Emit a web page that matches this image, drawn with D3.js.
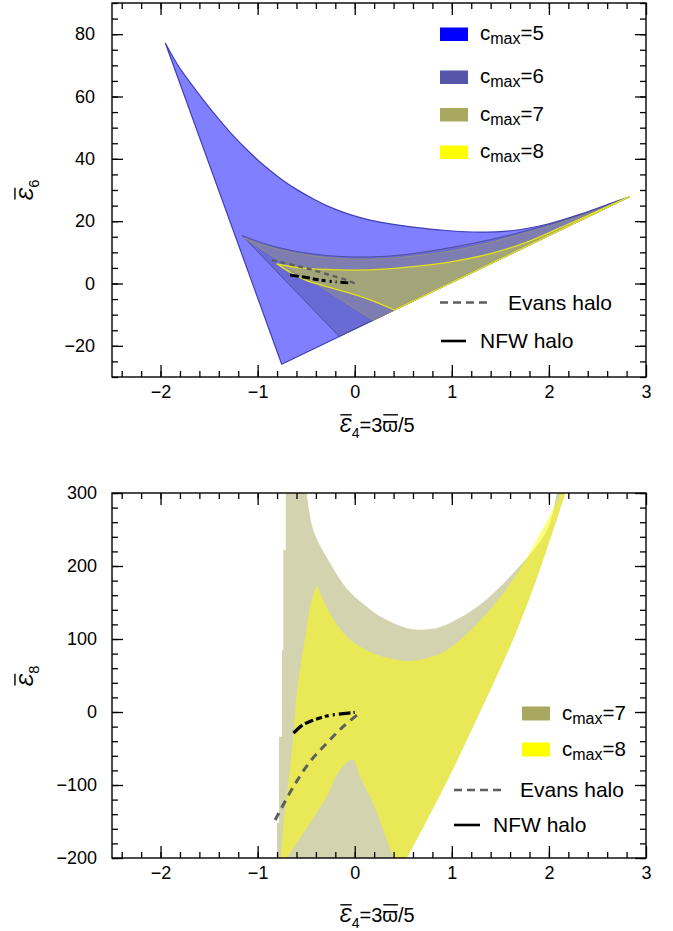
<!DOCTYPE html>
<html>
<head>
<meta charset="utf-8">
<script src="https://cdn.jsdelivr.net/npm/d3@7"></script>
<style>
  body { margin: 0; background: #fff; }
  text { font-family: "Liberation Sans", Arial, Helvetica, sans-serif; fill: #000; }
</style>
</head>
<body>
<svg id="fig" width="673" height="931"></svg>
<script>
// ---------- axis ticks ----------
const xMajorTicks = [-2, -1, 0, 1, 2, 3];
const yMajorTicksTop = [-20, 0, 20, 40, 60, 80];
const yMajorTicksBottom = [-200, -100, 0, 100, 200, 300];

// ---------- upper panel: (E4, E6) allowed regions ----------
// each region: curved upper boundary, then straight edges back to the start
const cmax5Upper = [
  [-1.95, 77.1], [-1.80, 69.0], [-1.625, 61.6], [-1.455, 54.8], [-1.283, 48.5],
  [-1.11, 42.9], [-0.94, 38.0], [-0.77, 33.8], [-0.60, 30.2], [-0.43, 27.2],
  [-0.26, 24.6], [-0.085, 22.5], [0.085, 20.9], [0.26, 19.7], [0.60, 18.1],
  [0.94, 17.0], [1.29, 16.5], [1.63, 17.0], [1.98, 19.0], [2.32, 22.2],
  [2.66, 26.0], [2.83, 27.85]
];
const cmax5Edges = [[2.83, 27.85], [-0.752, -25.9], [-1.95, 77.1]];

const cmax6Upper = [
  [-1.16, 15.4], [-0.9, 12.5], [-0.6, 10.3], [-0.3, 9.0], [0.0, 8.5], [0.3, 8.7],
  [0.6, 9.6], [1.0, 11.6], [1.4, 14.1], [1.8, 17.2], [2.2, 20.8], [2.5, 23.9], [2.83, 27.85]
];
const cmax6Edges = [[2.83, 27.85], [-0.16, -17.0], [-1.16, 15.4]];

const cmax7Upper = [
  [-1.14, 14.6], [-0.9, 11.9], [-0.6, 9.7], [-0.3, 8.4], [0.0, 7.8], [0.3, 8.0],
  [0.6, 8.8], [1.0, 10.5], [1.4, 13.2], [1.8, 16.6], [2.2, 20.4], [2.5, 23.6], [2.83, 27.85]
];
const cmax7Edges = [[2.83, 27.85], [0.19, -11.8], [-1.14, 14.6]];

const cmax8Upper = [
  [-0.80, 6.3], [-0.6, 5.2], [-0.3, 4.5], [0.0, 4.3], [0.3, 4.6], [0.6, 5.4],
  [1.0, 7.0], [1.4, 9.6], [1.8, 13.6], [2.2, 19.1], [2.5, 23.2], [2.83, 27.85]
];
const cmax8Edges = [[2.83, 27.85], [0.41, -8.5]];
const cmax8LowerLeft = [[0.41, -8.5], [0.15, -5.2], [-0.085, -2.8], [-0.3, -0.9], [-0.5, 1.0], [-0.65, 3.3], [-0.80, 6.3]];

const evansTop = [[-0.855, 7.5], [-0.60, 5.7], [-0.43, 4.3], [-0.255, 2.7], [-0.083, 1.1], [0.02, -0.2]];
const nfwTop = [[-0.666, 2.7], [-0.494, 1.9], [-0.357, 1.1], [-0.185, 0.5], [-0.066, 0.2]];

// ---------- lower panel: (E4, E8) allowed regions ----------
const cmax7LeftEdge = [
  [-0.54, -200], [-0.80, -200], [-0.80, -152], [-0.78, -152], [-0.78, -34], [-0.75, -34],
  [-0.75, 85], [-0.735, 85], [-0.735, 222], [-0.71, 222], [-0.71, 300], [-0.494, 300]
];
const cmax7UpperBot = [
  [-0.494, 300], [-0.426, 249], [-0.254, 204], [-0.082, 169], [0.089, 148], [0.26, 131],
  [0.45, 119], [0.62, 113], [0.80, 114], [0.95, 120], [1.29, 147], [1.63, 190],
  [1.98, 249], [2.08, 300]
];
const cmax8LeftEdge = [
  [-0.76, -200], [-0.73, -148], [-0.68, -93], [-0.63, -29], [-0.60, 21], [-0.56, 62],
  [-0.50, 110], [-0.45, 150], [-0.39, 174]
];
const cmax8UpperBot = [
  [-0.39, 174], [-0.254, 135], [-0.082, 103], [0.089, 87], [0.26, 77], [0.535, 70],
  [0.75, 74], [0.95, 85], [1.29, 125], [1.63, 181], [1.98, 262], [2.13, 300]
];
const rightEdgeBot = [[2.17, 300], [1.87, 181], [1.63, 99], [1.29, 0], [0.95, -95], [0.54, -200]];
const cmax8InnerEdge = [
  [0.40, -200], [0.295, -162], [0.19, -125], [0.055, -89], [-0.02, -65], [-0.15, -79],
  [-0.29, -116], [-0.46, -152], [-0.70, -200]
];
const evansBottom = [[-0.82, -148], [-0.63, -102], [-0.46, -68], [-0.29, -43], [-0.12, -20], [0.055, -1]];
const nfwBottom = [[-0.63, -29], [-0.55, -19], [-0.46, -13], [-0.29, -5.5], [-0.12, -2.2], [0.0, -0.5]];

// ---------- legend entries ----------
const topLegend = [
  { n: "5", color: "#0000ff", y: 34 },
  { n: "6", color: "#5555aa", y: 77 },
  { n: "7", color: "#a8a860", y: 114.5 },
  { n: "8", color: "#ffff00", y: 152 }
];
const bottomLegend = [
  { n: "7", color: "#a8a860", y: 713.5 },
  { n: "8", color: "#ffff00", y: 749.5 }
];

const svg = d3.select("#fig");
const fmt = d => d < 0 ? "\u2212" + Math.abs(d) : String(d);

const x = d3.scaleLinear().domain([-2.5, 3]).range([112, 646]);
const yTop = d3.scaleLinear().domain([-30, 90]).range([377, 3]);
const yBot = d3.scaleLinear().domain([-200, 300]).range([858, 493]);

function clipFor(id, y) {
  svg.append("clipPath").attr("id", id).append("rect")
    .attr("x", x.range()[0]).attr("y", y.range()[1])
    .attr("width", x.range()[1] - x.range()[0])
    .attr("height", y.range()[0] - y.range()[1]);
}
clipFor("clipTop", yTop);
clipFor("clipBot", yBot);

// closed outline built from a sequence of smooth or straight boundary pieces
function region(g, y, pieces, fill, opacity, stroke, sw) {
  let d = "";
  pieces.forEach((p, i) => {
    const gen = d3.line().x(v => x(v[0])).y(v => y(v[1]))
      .curve(p.smooth ? d3.curveCatmullRom.alpha(0.5) : d3.curveLinear);
    const s = gen(p.pts);
    d += i === 0 ? s : "L" + s.slice(1);
  });
  g.append("path").attr("d", d + "Z")
    .attr("fill", fill).attr("fill-opacity", opacity)
    .attr("stroke", stroke || "none").attr("stroke-width", sw || 0)
    .attr("stroke-linejoin", "round");
}
function curve(g, y, pts, color, width, dash) {
  const line = d3.line().x(d => x(d[0])).y(d => y(d[1])).curve(d3.curveCatmullRom.alpha(0.5));
  g.append("path").attr("d", line(pts)).attr("fill", "none")
    .attr("stroke", color).attr("stroke-width", width)
    .attr("stroke-dasharray", dash);
}

function frame(y, yMajor, yMinorStep, yLabelPad) {
  const [bottom, top] = y.range();
  const [left, right] = x.range();
  const xMinor = d3.range(-2.4, 3.0, 0.2).map(v => +v.toFixed(2));
  const yd = y.domain();
  const yMinor = d3.range(yd[0], yd[1] + 1e-9, yMinorStep);
  const g = svg.append("g");
  const add = (axis, tx, ty) => {
    const a = g.append("g").attr("transform", `translate(${tx},${ty})`).call(axis);
    a.select(".domain").remove();
    a.selectAll("line").attr("stroke", "#000").attr("stroke-width", 1.3);
    a.selectAll("text").attr("font-size", 18).attr("font-family", "Liberation Sans, Arial, sans-serif").attr("fill", "#000");
    return a;
  };
  add(d3.axisBottom(x).tickValues(xMinor).tickSize(-6).tickFormat(""), 0, bottom);
  add(d3.axisBottom(x).tickValues(xMajorTicks).tickSize(-12).tickPadding(8).tickFormat(fmt), 0, bottom);
  add(d3.axisTop(x).tickValues(xMinor).tickSize(-6).tickFormat(""), 0, top);
  add(d3.axisTop(x).tickValues(xMajorTicks).tickSize(-12).tickFormat(""), 0, top);
  add(d3.axisLeft(y).tickValues(yMinor).tickSize(-6).tickFormat(""), left, 0);
  add(d3.axisLeft(y).tickValues(yMajor).tickSize(-11).tickPadding(yLabelPad).tickFormat(fmt), left, 0);
  add(d3.axisRight(y).tickValues(yMinor).tickSize(-6).tickFormat(""), right, 0);
  add(d3.axisRight(y).tickValues(yMajor).tickSize(-11).tickFormat(""), right, 0);
  g.append("rect").attr("x", left).attr("y", top)
    .attr("width", right - left).attr("height", bottom - top)
    .attr("fill", "none").attr("stroke", "#000").attr("stroke-width", 1.4);
}

// Text with overlined symbols and subscripts
function mathText(g, parts, fs) {
  const t = g.append("text").attr("text-anchor", "middle").attr("font-size", fs);
  let idx = 0, sub = false;
  const overs = [];
  parts.forEach(p => {
    const ts = t.append("tspan").text(p.t);
    if (p.italic) ts.attr("font-style", "italic");
    if (p.sub) { ts.attr("font-size", fs * 0.7).attr("dy", fs * 0.28); sub = true; }
    else if (sub) { ts.attr("dy", -fs * 0.28); sub = false; }
    if (p.over) overs.push([idx, idx + p.t.length - 1]);
    idx += p.t.length;
  });
  const node = t.node();
  overs.forEach(([a, b]) => {
    const s = node.getStartPositionOfChar(a), e = node.getEndPositionOfChar(b);
    g.append("line").attr("x1", s.x + 1).attr("x2", e.x)
      .attr("y1", s.y - fs * 0.86).attr("y2", s.y - fs * 0.86)
      .attr("stroke", "#000").attr("stroke-width", 1.4);
  });
  return t;
}

function xTitle(cx, cy) {
  const g = svg.append("g").attr("transform", `translate(${cx},${cy})`);
  mathText(g, [{ t: "\u0190", italic: true, over: true }, { t: "4", sub: true },
               { t: "=3" }, { t: "\u03D6", over: true }, { t: "/5" }], 20);
}
function yTitle(cx, cy, n) {
  const g = svg.append("g").attr("transform", `translate(${cx},${cy}) rotate(-90)`);
  mathText(g, [{ t: "\u0190", italic: true, over: true }, { t: n, sub: true }], 21);
}

function cmaxLabel(lx, base, n) {
  const t = svg.append("text").attr("x", lx).attr("y", base).attr("font-size", 20.5);
  t.append("tspan").text("c");
  t.append("tspan").text("max").attr("font-size", 16).attr("dy", 4);
  t.append("tspan").text("=" + n).attr("dy", -4);
}

// ================= upper panel =================
const gTop = svg.append("g").attr("clip-path", "url(#clipTop)");
region(gTop, yTop, [{ pts: cmax5Upper, smooth: true }, { pts: cmax5Edges }], "#0000ff", 0.5, "#4040b4", 1.2);
region(gTop, yTop, [{ pts: cmax6Upper, smooth: true }, { pts: cmax6Edges }], "#5555aa", 0.5, "#50509c", 1);
region(gTop, yTop, [{ pts: cmax7Upper, smooth: true }, { pts: cmax7Edges }], "#a8a860", 0.3, "#8e8e86", 1);
region(gTop, yTop, [{ pts: cmax8Upper, smooth: true }, { pts: cmax8Edges }, { pts: cmax8LowerLeft, smooth: true }],
  "#ffff00", 0.3, "#e2e21c", 1.3);
curve(gTop, yTop, evansTop, "#5e5e5e", 2.4, "5 4");
curve(gTop, yTop, nfwTop, "#000", 3, "9 3 8 3 6 3 4 4 2 4 1 4");
frame(yTop, yMajorTicksTop, 5, 17);
xTitle(377, 432);
yTitle(33, 190, "6");

topLegend.forEach(d => {
  svg.append("rect").attr("x", 440).attr("y", d.y - 6.5).attr("width", 28).attr("height", 13.5)
    .attr("fill", d.color);
  cmaxLabel(480, d.y + 6, d.n);
});
svg.append("line").attr("x1", 440).attr("x2", 492).attr("y1", 302.5).attr("y2", 302.5)
  .attr("stroke", "#5e5e5e").attr("stroke-width", 2.4).attr("stroke-dasharray", "8 5");
svg.append("text").attr("x", 508).attr("y", 310).attr("font-size", 21).text("Evans halo");
svg.append("line").attr("x1", 441).attr("x2", 466).attr("y1", 341).attr("y2", 341)
  .attr("stroke", "#000").attr("stroke-width", 2.6);
svg.append("text").attr("x", 480).attr("y", 348).attr("font-size", 21).text("NFW halo");

// ================= lower panel =================
const gBot = svg.append("g").attr("clip-path", "url(#clipBot)");
region(gBot, yBot, [{ pts: cmax7LeftEdge }, { pts: cmax7UpperBot, smooth: true }, { pts: rightEdgeBot, smooth: true }],
  "#a8a860", 0.5);
region(gBot, yBot, [{ pts: cmax8LeftEdge, smooth: true }, { pts: cmax8UpperBot, smooth: true },
                    { pts: rightEdgeBot, smooth: true }, { pts: cmax8InnerEdge, smooth: true }],
  "#ffff00", 0.5);
curve(gBot, yBot, evansBottom, "#5e5e5e", 3, "8 6");
curve(gBot, yBot, nfwBottom, "#000", 3.2, "12 3 9 3 6 3 4 4 2 4");
frame(yBot, yMajorTicksBottom, 20, 15);
xTitle(377, 922);
yTitle(33, 676, "8");

bottomLegend.forEach(d => {
  svg.append("rect").attr("x", 522).attr("y", d.y - 7).attr("width", 28).attr("height", 14)
    .attr("fill", d.color);
  cmaxLabel(562, d.y + 6, d.n);
});
svg.append("line").attr("x1", 454).attr("x2", 505).attr("y1", 790).attr("y2", 790)
  .attr("stroke", "#5e5e5e").attr("stroke-width", 2.4).attr("stroke-dasharray", "8 5");
svg.append("text").attr("x", 520).attr("y", 797).attr("font-size", 21).text("Evans halo");
svg.append("line").attr("x1", 454).attr("x2", 480).attr("y1", 825).attr("y2", 825)
  .attr("stroke", "#000").attr("stroke-width", 2.6);
svg.append("text").attr("x", 493).attr("y", 832).attr("font-size", 21).text("NFW halo");
</script>
</body>
</html>
